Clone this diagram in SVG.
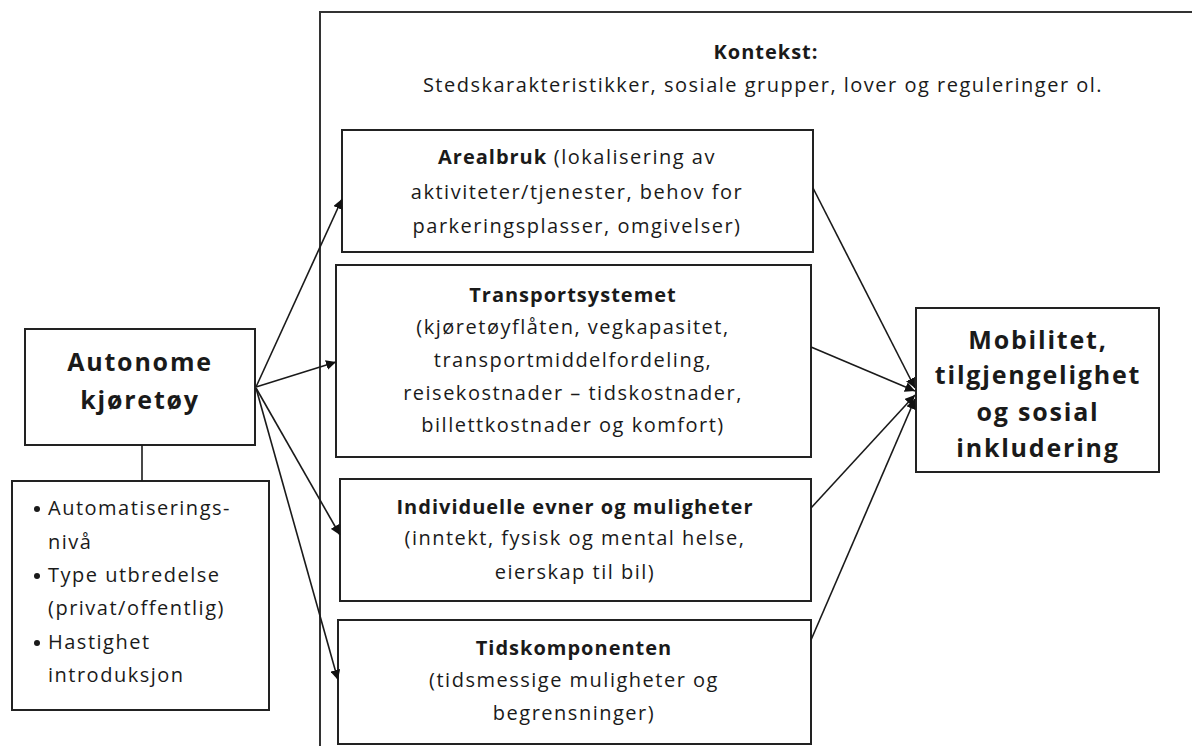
<svg xmlns="http://www.w3.org/2000/svg" width="1192" height="746" viewBox="0 0 1192 746">
<defs>
<style>
.box{fill:#fff;stroke:#222;stroke-width:2}
.frame{fill:none;stroke:#333;stroke-width:2}
.t{font-family:"Open Sans","Noto Sans","Liberation Sans",sans-serif;font-size:20px;fill:#1a1a1a;text-anchor:middle;letter-spacing:1.5px}
.b{font-weight:bold;letter-spacing:1px}
.big{font-size:25px;font-weight:bold;letter-spacing:1.8px}
.l{text-anchor:start}
.c{stroke:#1a1a1a;stroke-width:1.6;fill:none}
</style>
<marker id="ah" viewBox="0 0 10 10" refX="10" refY="5" markerWidth="10" markerHeight="10" markerUnits="userSpaceOnUse" orient="auto">
<path d="M0,0 L10,5 L0,10 z" fill="#111"/>
</marker>
</defs>
<rect width="1192" height="746" fill="#fff"/>
<g id="kontekst">
<path class="frame" d="M320,746 V12 H1192"/>
<text class="t b" x="766" y="59">Kontekst:</text>
<text class="t" x="763" y="92">Stedskarakteristikker, sosiale grupper, lover og reguleringer ol.</text>
</g>
<g id="autonome">
<rect class="box" x="25" y="329" width="230" height="116"/>
<text class="t big" x="140" y="371">Autonome</text>
<text class="t big" x="140" y="409">kjøretøy</text>
</g>
<g id="egenskaper">
<rect class="box" x="12" y="481" width="257" height="229"/>
<circle cx="37" cy="509" r="3" fill="#1a1a1a"/><text class="t l" x="48" y="515">Automatiserings-</text>
<text class="t l" x="48" y="549">nivå</text>
<circle cx="37" cy="576" r="3" fill="#1a1a1a"/><text class="t l" x="48" y="582">Type utbredelse</text>
<text class="t l" x="48" y="615">(privat/offentlig)</text>
<circle cx="37" cy="643" r="3" fill="#1a1a1a"/><text class="t l" x="48" y="649">Hastighet</text>
<text class="t l" x="48" y="682">introduksjon</text>
</g>
<g id="arealbruk">
<rect class="box" x="342" y="130" width="471" height="122"/>
<text class="t" x="577" y="164"><tspan class="b">Arealbruk</tspan> (lokalisering av</text>
<text class="t" x="577" y="199">aktiviteter/tjenester, behov for</text>
<text class="t" x="577" y="233">parkeringsplasser, omgivelser)</text>
</g>
<g id="transport">
<rect class="box" x="336" y="265" width="475" height="192"/>
<text class="t b" x="573" y="302">Transportsystemet</text>
<text class="t" x="573" y="334">(kjøretøyflåten, vegkapasitet,</text>
<text class="t" x="573" y="367">transportmiddelfordeling,</text>
<text class="t" x="573" y="400">reisekostnader – tidskostnader,</text>
<text class="t" x="573" y="432">billettkostnader og komfort)</text>
</g>
<g id="individuelle">
<rect class="box" x="340" y="479" width="471" height="122"/>
<text class="t b" x="575" y="514">Individuelle evner og muligheter</text>
<text class="t" x="575" y="545">(inntekt, fysisk og mental helse,</text>
<text class="t" x="575" y="579">eierskap til bil)</text>
</g>
<g id="tids">
<rect class="box" x="338" y="620" width="473" height="124"/>
<text class="t b" x="574" y="655">Tidskomponenten</text>
<text class="t" x="574" y="687">(tidsmessige muligheter og</text>
<text class="t" x="574" y="720">begrensninger)</text>
</g>
<g id="mobilitet">
<rect class="box" x="916" y="308" width="243" height="164"/>
<text class="t big" x="1038" y="349">Mobilitet,</text>
<text class="t big" x="1038" y="384">tilgjengelighet</text>
<text class="t big" x="1038" y="421">og sosial</text>
<text class="t big" x="1038" y="457">inkludering</text>
</g>
<g id="connectors">
<line class="c" x1="142" y1="445" x2="142" y2="481"/>
<line class="c" x1="256" y1="387" x2="342" y2="199" marker-end="url(#ah)"/>
<line class="c" x1="256" y1="387" x2="336" y2="362" marker-end="url(#ah)"/>
<line class="c" x1="256" y1="388" x2="340" y2="535" marker-end="url(#ah)"/>
<line class="c" x1="256" y1="388" x2="338" y2="680" marker-end="url(#ah)"/>
<line class="c" x1="813" y1="188" x2="915" y2="388" marker-end="url(#ah)"/>
<line class="c" x1="811" y1="347" x2="915" y2="391" marker-end="url(#ah)"/>
<line class="c" x1="811" y1="508" x2="915" y2="395" marker-end="url(#ah)"/>
<line class="c" x1="811" y1="640" x2="915" y2="399" marker-end="url(#ah)"/>
</g>
</svg>
